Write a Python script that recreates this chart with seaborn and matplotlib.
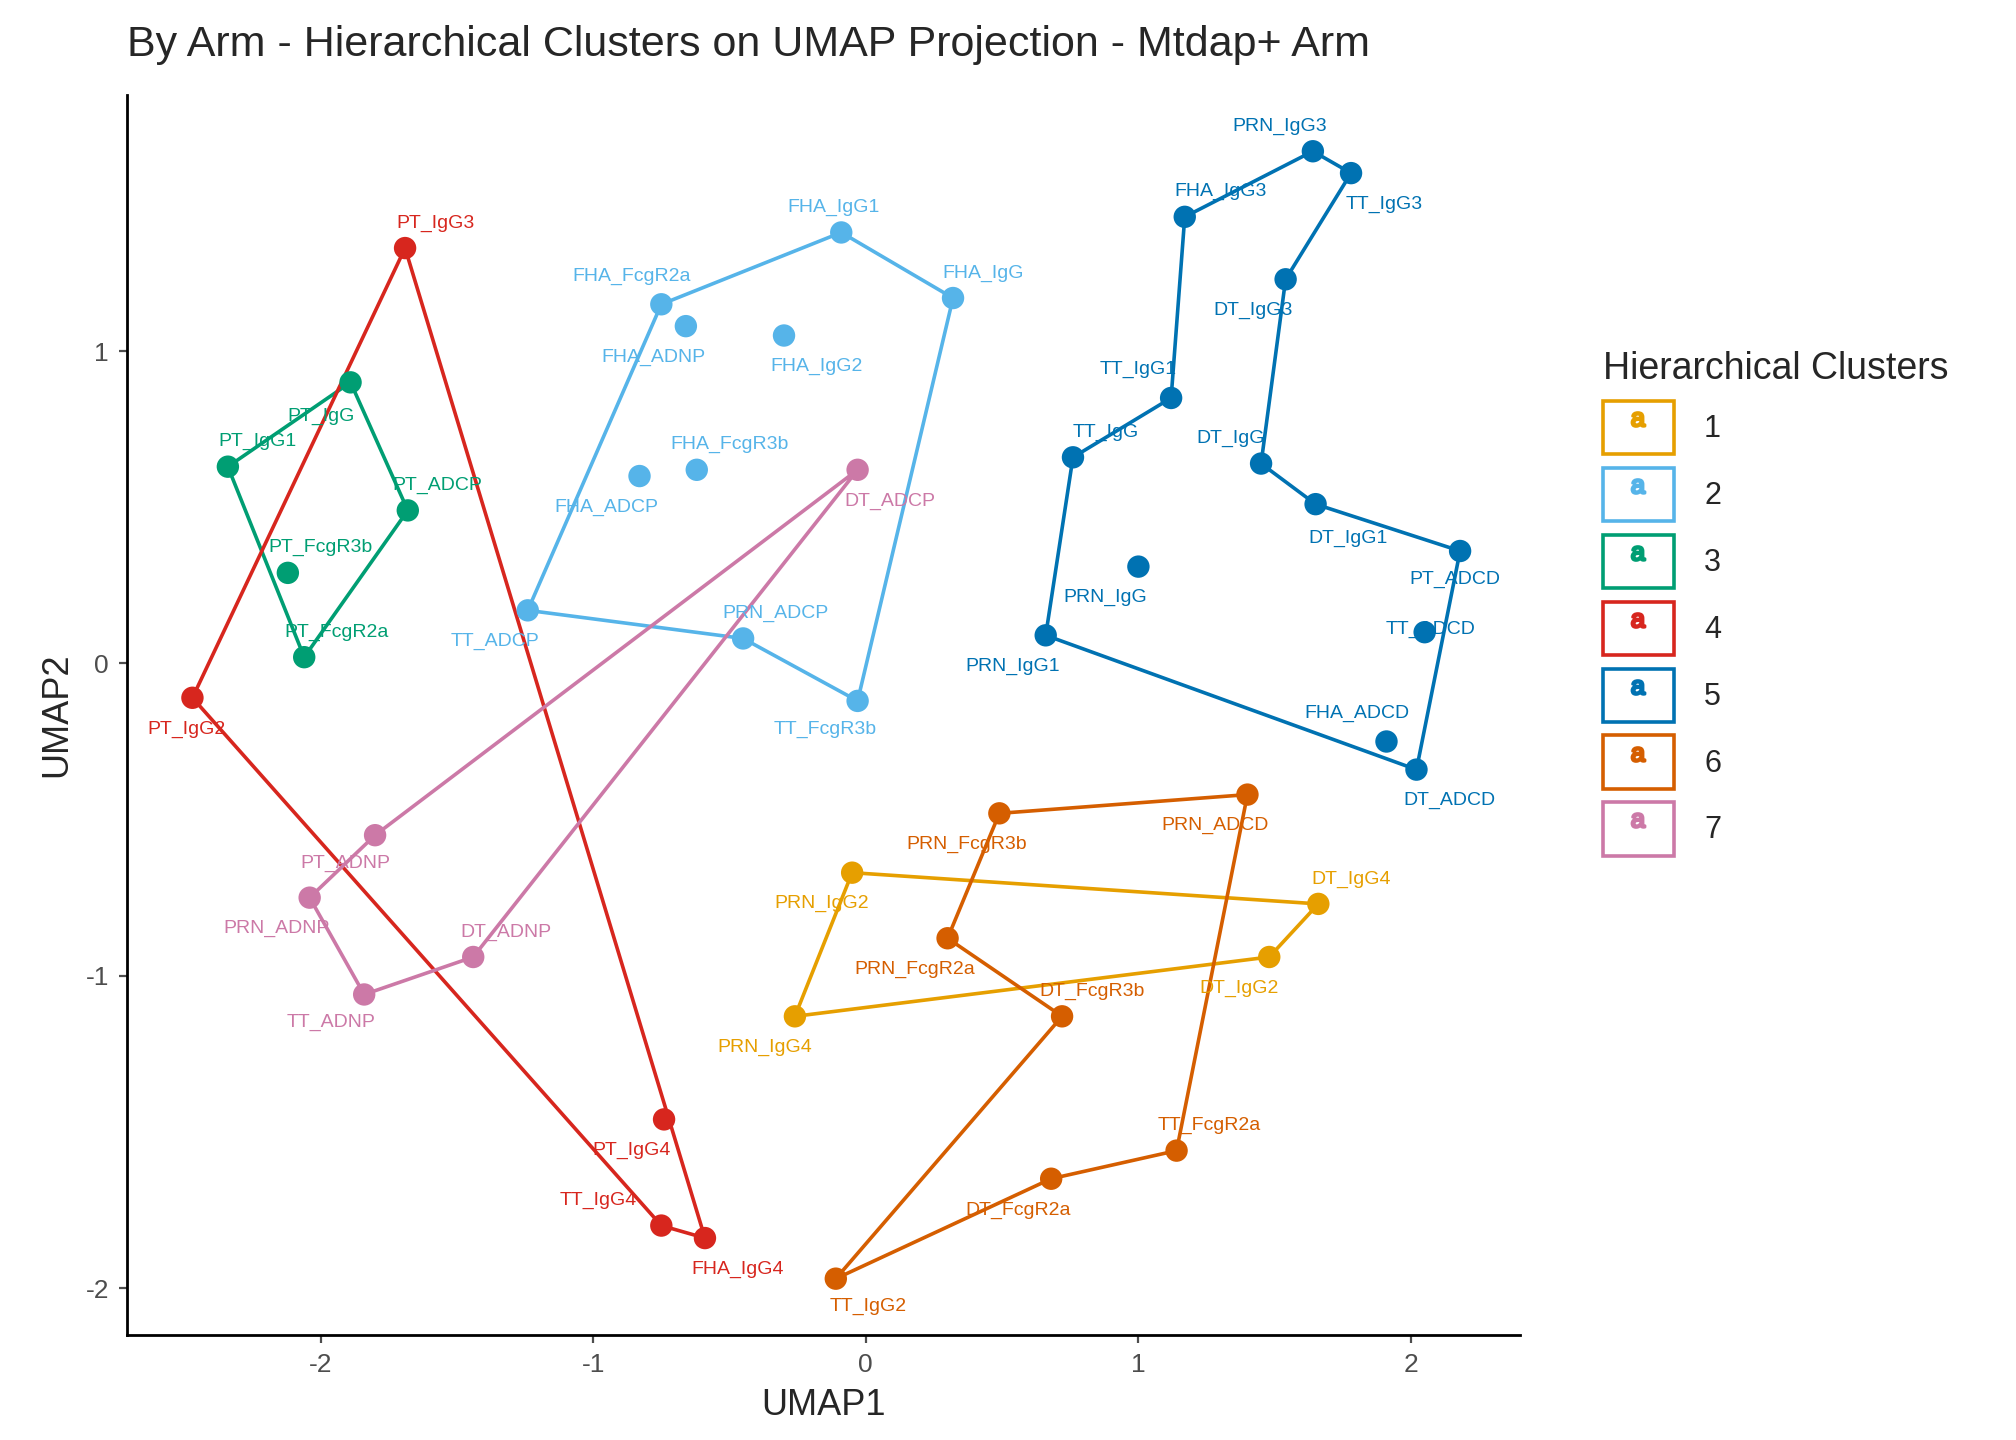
import numpy as np
import pandas as pd
import seaborn as sns
import matplotlib.pyplot as plt
from matplotlib.patches import Patch
from matplotlib.lines import Line2D
from matplotlib.legend_handler import HandlerTuple

# point data (UMAP1, UMAP2), grouped by cluster
names = {
    1: ["PRN_IgG2", "DT_IgG4", "DT_IgG2", "PRN_IgG4"],
    2: ["FHA_IgG1", "FHA_IgG", "FHA_FcgR2a", "FHA_ADNP", "FHA_IgG2", "FHA_FcgR3b",
        "FHA_ADCP", "TT_ADCP", "PRN_ADCP", "TT_FcgR3b"],
    3: ["PT_IgG", "PT_IgG1", "PT_ADCP", "PT_FcgR3b", "PT_FcgR2a"],
    4: ["PT_IgG3", "PT_IgG2", "PT_IgG4", "TT_IgG4", "FHA_IgG4"],
    5: ["PRN_IgG3", "TT_IgG3", "FHA_IgG3", "DT_IgG3", "TT_IgG1", "TT_IgG", "DT_IgG",
        "DT_IgG1", "PT_ADCD", "PRN_IgG", "TT_ADCD", "PRN_IgG1", "FHA_ADCD", "DT_ADCD"],
    6: ["PRN_FcgR3b", "PRN_ADCD", "PRN_FcgR2a", "DT_FcgR3b", "TT_FcgR2a", "DT_FcgR2a", "TT_IgG2"],
    7: ["DT_ADCP", "PT_ADNP", "PRN_ADNP", "TT_ADNP", "DT_ADNP"],
}
umap1 = {
    1: [-0.05, 1.66, 1.48, -0.26],
    2: [-0.09, 0.32, -0.75, -0.66, -0.30, -0.62, -0.83, -1.24, -0.45, -0.03],
    3: [-1.89, -2.34, -1.68, -2.12, -2.06],
    4: [-1.69, -2.47, -0.74, -0.75, -0.59],
    5: [1.64, 1.78, 1.17, 1.54, 1.12, 0.76, 1.45, 1.65, 2.18, 1.00, 2.05, 0.66, 1.91, 2.02],
    6: [0.49, 1.40, 0.30, 0.72, 1.14, 0.68, -0.11],
    7: [-0.03, -1.80, -2.04, -1.84, -1.44],
}
umap2 = {
    1: [-0.67, -0.77, -0.94, -1.13],
    2: [1.38, 1.17, 1.15, 1.08, 1.05, 0.62, 0.60, 0.17, 0.08, -0.12],
    3: [0.90, 0.63, 0.49, 0.29, 0.02],
    4: [1.33, -0.11, -1.46, -1.80, -1.84],
    5: [1.64, 1.57, 1.43, 1.23, 0.85, 0.66, 0.64, 0.51, 0.36, 0.31, 0.10, 0.09, -0.25, -0.34],
    6: [-0.48, -0.42, -0.88, -1.13, -1.56, -1.65, -1.97],
    7: [0.62, -0.55, -0.75, -1.06, -0.94],
}
# outline order per cluster
hulls = {
    1: ["PRN_IgG2", "DT_IgG4", "DT_IgG2", "PRN_IgG4"],
    2: ["TT_ADCP", "FHA_FcgR2a", "FHA_IgG1", "FHA_IgG", "TT_FcgR3b", "PRN_ADCP"],
    3: ["PT_IgG1", "PT_IgG", "PT_ADCP", "PT_FcgR2a"],
    4: ["PT_IgG3", "PT_IgG2", "TT_IgG4", "FHA_IgG4"],
    5: ["PRN_IgG1", "TT_IgG", "TT_IgG1", "FHA_IgG3", "PRN_IgG3", "TT_IgG3", "DT_IgG3",
        "DT_IgG", "DT_IgG1", "PT_ADCD", "DT_ADCD"],
    6: ["PRN_FcgR3b", "PRN_ADCD", "TT_FcgR2a", "DT_FcgR2a", "TT_IgG2", "DT_FcgR3b", "PRN_FcgR2a"],
    7: ["DT_ADCP", "PT_ADNP", "PRN_ADNP", "TT_ADNP", "DT_ADNP"],
}
# label positions (repelled text), UMAP units
label_pos = {
    "FHA_IgG1": (-0.12, 1.46), "FHA_IgG": (0.43, 1.25), "FHA_FcgR2a": (-0.86, 1.24),
    "FHA_ADNP": (-0.78, 0.98), "FHA_IgG2": (-0.18, 0.95), "FHA_FcgR3b": (-0.50, 0.70),
    "FHA_ADCP": (-0.95, 0.50), "TT_ADCP": (-1.36, 0.07), "PRN_ADCP": (-0.33, 0.16),
    "TT_FcgR3b": (-0.15, -0.21),
    "PT_IgG": (-2.00, 0.79), "PT_IgG1": (-2.23, 0.71), "PT_ADCP": (-1.57, 0.57),
    "PT_FcgR3b": (-2.00, 0.37), "PT_FcgR2a": (-1.94, 0.10),
    "PT_IgG3": (-1.58, 1.41), "PT_IgG2": (-2.49, -0.21), "PT_IgG4": (-0.86, -1.56),
    "TT_IgG4": (-0.98, -1.72), "FHA_IgG4": (-0.47, -1.94),
    "PRN_IgG3": (1.52, 1.72), "TT_IgG3": (1.90, 1.47), "FHA_IgG3": (1.30, 1.51),
    "DT_IgG3": (1.42, 1.13), "TT_IgG1": (1.00, 0.94), "TT_IgG": (0.88, 0.74),
    "DT_IgG": (1.34, 0.72), "DT_IgG1": (1.77, 0.40), "PT_ADCD": (2.16, 0.27),
    "PRN_IgG": (0.88, 0.21), "TT_ADCD": (2.07, 0.11), "PRN_IgG1": (0.54, -0.01),
    "FHA_ADCD": (1.80, -0.16), "DT_ADCD": (2.14, -0.44),
    "PRN_FcgR3b": (0.37, -0.58), "PRN_ADCD": (1.28, -0.52), "PRN_FcgR2a": (0.18, -0.98),
    "DT_FcgR3b": (0.83, -1.05), "TT_FcgR2a": (1.26, -1.48), "DT_FcgR2a": (0.56, -1.75),
    "TT_IgG2": (0.01, -2.06),
    "PRN_IgG2": (-0.16, -0.77), "DT_IgG4": (1.78, -0.69), "DT_IgG2": (1.37, -1.04),
    "PRN_IgG4": (-0.37, -1.23),
    "DT_ADCP": (0.09, 0.52), "PT_ADNP": (-1.91, -0.64), "PRN_ADNP": (-2.16, -0.85),
    "TT_ADNP": (-1.96, -1.15), "DT_ADNP": (-1.32, -0.86),
}
palette = {1: "#E69F00", 2: "#56B4E9", 3: "#009E73", 4: "#D7261E",
           5: "#0072B2", 6: "#D55E00", 7: "#CC79A7"}

rows = []
for c in names:
    for n, x, y in zip(names[c], umap1[c], umap2[c]):
        rows.append({"name": n, "UMAP1": x, "UMAP2": y, "cluster": c})
df = pd.DataFrame(rows)

sns.set_style("white")
plt.rcParams['font.family'] = ['Liberation Sans', 'DejaVu Sans']
plt.rcParams['mathtext.fontset'] = 'custom'
plt.rcParams['mathtext.rm'] = 'Liberation Sans'
fig = plt.figure(figsize=(10.08, 7.2), dpi=200)
ax = fig.add_axes([0.063, 0.073, 0.691, 0.861])

for c, order in hulls.items():
    sub = df.set_index("name").loc[order + [order[0]]]
    ax.plot(sub["UMAP1"], sub["UMAP2"], color=palette[c], lw=1.3, zorder=2)

sns.scatterplot(data=df, x="UMAP1", y="UMAP2", hue="cluster", palette=palette,
                s=65, edgecolor="none", legend=False, ax=ax, zorder=3)

for _, r in df.iterrows():
    lx, ly = label_pos[r["name"]]
    ax.text(lx, ly, r["name"], color=palette[r["cluster"]], fontsize=7,
            ha="center", va="center", zorder=4)

ax.set_xlim(-2.71, 2.40)
ax.set_ylim(-2.15, 1.82)
ax.set_xticks([-2, -1, 0, 1, 2])
ax.set_yticks([-2, -1, 0, 1])
ax.set_xticklabels(["-2", "-1", "0", "1", "2"])
ax.set_yticklabels(["-2", "-1", "0", "1"])
ax.tick_params(axis="both", labelsize=9.5, colors="#4D4D4D", length=3, width=0.8,
               left=True, bottom=True, direction="out")
for sp in ["top", "right"]:
    ax.spines[sp].set_visible(False)
for sp in ["left", "bottom"]:
    ax.spines[sp].set_color("black")
    ax.spines[sp].set_linewidth(1.0)
ax.set_xlabel("UMAP1", fontsize=13)
ax.set_ylabel("UMAP2", fontsize=13)
fig.text(0.063, 0.955, "By Arm - Hierarchical Clusters on UMAP Projection - Mtdap+ Arm",
         fontsize=15.5, ha="left", va="bottom")

handles = [(Patch(facecolor="white", edgecolor=palette[c], lw=1.3),
            Line2D([], [], marker="$\\mathrm{a}$", color=palette[c], ls="none", markersize=5))
           for c in palette]
leg = ax.legend(handles, [str(c) for c in palette],
                handler_map={tuple: HandlerTuple(ndivide=1, pad=0)},
                title="Hierarchical Clusters", loc="center left", bbox_to_anchor=(1.04, 0.59),
                frameon=False, fontsize=11, title_fontsize=13.5, handlelength=2.3,
                handleheight=2.3, labelspacing=0.45, handletextpad=1.0)
leg._legend_box.align = "left"

plt.savefig("out.png", dpi=200)
